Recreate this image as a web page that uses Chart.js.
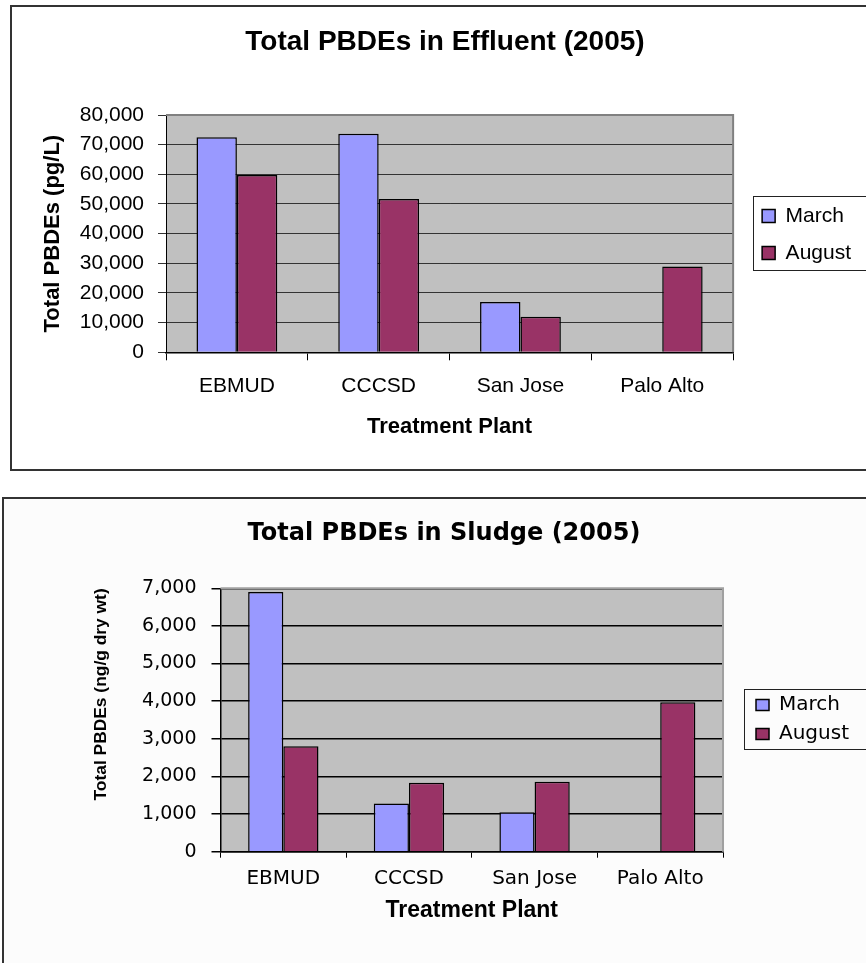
<!DOCTYPE html>
<html>
<head>
<meta charset="utf-8">
<script src="https://cdn.jsdelivr.net/npm/chart.js@4.4.1/dist/chart.umd.min.js"></script>
<style>
    html, body { margin: 0; padding: 0; width: 866px; height: 963px; overflow: hidden; background: #fff; }
    .frame { position: absolute; box-sizing: border-box; border: 2px solid #333; }
    #effluentFrame { left: 10px; top: 5px; width: 900px; height: 466px; background: #fff; }
    #sludgeFrame { left: 2px; top: 497px; width: 900px; height: 520px; background: #fcfcfc; }
    canvas { position: absolute; }
    #effluentChart { left: 42px; top: 7px; }
    #sludgeChart { left: 53px; top: 499px; }
</style>
</head>
<body>
<div class="frame" id="effluentFrame"></div>
<div class="frame" id="sludgeFrame"></div>
<canvas id="effluentChart" width="830" height="455"></canvas>
<canvas id="sludgeChart" width="820" height="441"></canvas>

<script>
// Data
const plants = ['EBMUD', 'CCCSD', 'San Jose', 'Palo Alto'];
const seriesNames = ['March', 'August'];

const effluentMarch = [72500, 73700, 16950, null];
const effluentAugust = [59800, 51700, 12000, 28900];
const effluentAxis = { max: 80000, step: 10000 };

const sludgeMarch = [6900, 1280, 1050, null];
const sludgeAugust = [2800, 1830, 1860, 3970];
const sludgeAxis = { max: 7000, step: 1000 };

const MARCH_COLOR = '#9999FF';
const AUGUST_COLOR = '#993366';

const ARIAL = '"Liberation Sans", Arial, sans-serif';
const VERDANA = '"DejaVu Sans", Verdana, sans-serif';

Chart.defaults.color = '#000';
Chart.defaults.font.family = ARIAL;

// narrow bold font for the sludge y title, fall back to a smaller Arial
function hasFont(name) {
    const ctx = document.createElement('canvas').getContext('2d');
    ctx.font = 'bold 20px monospace';
    const w = ctx.measureText('Total PBDEs (ng/g dry wt)').width;
    ctx.font = `bold 20px "${name}", monospace`;
    return ctx.measureText('Total PBDEs (ng/g dry wt)').width !== w;
}
const narrowOk = hasFont('Liberation Sans Narrow');
const sludgeYTitleFont = narrowOk
    ? { family: '"Liberation Sans Narrow"', size: 21, weight: 'bold', lineHeight: 1 }
    : { family: ARIAL, size: 17.4, weight: 'bold', lineHeight: 1 };

// Excel-style plot area, border and legend frame
const excelLook = {
    id: 'excelLook',
    afterLayout(chart, args, opts) {
        const lg = chart.legend;
        if (lg && opts.legendShift) {
            lg.left += opts.legendShift;
            lg.right += opts.legendShift;
        }
    },
    beforeDraw(chart, args, opts) {
        const { ctx, chartArea: a } = chart;
        ctx.save();
        ctx.fillStyle = opts.plotBg;
        ctx.fillRect(a.left, a.top, a.right - a.left, a.bottom - a.top);
        ctx.restore();
    },
    beforeDatasetsDraw(chart, args, opts) {
        const { ctx, chartArea: a } = chart;
        ctx.save();
        ctx.strokeStyle = opts.edgeColor;
        ctx.lineWidth = opts.edgeWidth;
        ctx.beginPath();
        ctx.moveTo(a.left, a.top);
        ctx.lineTo(a.right, a.top);
        ctx.lineTo(a.right, a.bottom);
        ctx.stroke();
        ctx.restore();
    },
    afterDraw(chart, args, opts) {
        const hb = chart.legend && chart.legend.legendHitBoxes;
        if (!hb || hb.length < 2) return;
        const f = opts.legendFrame;
        const ctx = chart.ctx;
        const x = Math.round(hb[0].left - f.left) + 0.5;
        const y = Math.round(hb[0].top - f.top) + 0.5;
        const b = Math.round(hb[1].top + hb[1].height + f.bottom) + 0.5;
        ctx.save();
        ctx.strokeStyle = '#222';
        ctx.lineWidth = 1;
        ctx.strokeRect(x, y, chart.width + 10 - x, b - y);
        ctx.restore();
    }
};

const fmt = v => v.toLocaleString('en-US');

// Effluent chart
new Chart(document.getElementById('effluentChart'), {
    type: 'bar',
    data: {
        labels: plants,
        datasets: [{
            label: seriesNames[0],
            data: effluentMarch,
            backgroundColor: MARCH_COLOR,
            borderColor: '#000',
            borderWidth: 1.5,
            categoryPercentage: 0.57,
            barPercentage: 1
        }, {
            label: seriesNames[1],
            data: effluentAugust,
            backgroundColor: AUGUST_COLOR,
            borderColor: '#000',
            borderWidth: 1.5,
            categoryPercentage: 0.57,
            barPercentage: 1
        }]
    },
    options: {
        responsive: false,
        animation: false,
        layout: { padding: { left: 0, right: 24, top: 0, bottom: 0 } },
        plugins: {
            title: {
                display: true,
                text: 'Total PBDEs in Effluent (2005)',
                font: { size: 28, weight: 'bold' },
                padding: { top: 18.2, bottom: 56.2 }
            },
            legend: {
                position: 'right',
                align: 'center',
                labels: { boxWidth: 13, boxHeight: 13, padding: 16, font: { size: 21 } }
            },
            tooltip: { enabled: false },
            excelLook: {
                plotBg: '#C0C0C0',
                edgeColor: '#808080',
                edgeWidth: 2,
                legendShift: 13,
                legendFrame: { left: 9, top: 10, bottom: 6.5 }
            }
        },
        scales: {
            x: {
                grid: { display: true, drawOnChartArea: false, drawTicks: true, tickLength: 8, color: '#000', offset: true },
                border: { color: '#000', width: 1.5 },
                ticks: { padding: 13, maxRotation: 0, font: { size: 21 } },
                title: {
                    display: true,
                    text: 'Treatment Plant',
                    font: { size: 22, weight: 'bold' },
                    padding: { top: 0, bottom: 21.8 }
                },
                afterFit: s => { s.height = 109.7; }
            },
            y: {
                min: 0,
                max: effluentAxis.max,
                ticks: { stepSize: effluentAxis.step, padding: 14, font: { size: 21 }, callback: fmt },
                grid: { color: '#333', lineWidth: 1, tickLength: 8 },
                border: { color: '#000', width: 1 },
                title: {
                    display: true,
                    text: 'Total PBDEs (pg/L)',
                    font: { size: 22, weight: 'bold', lineHeight: 1 },
                    padding: { top: 0, bottom: 0 }
                },
                afterFit: s => { s.width = 124; }
            }
        }
    },
    plugins: [excelLook]
});

// Sludge chart
new Chart(document.getElementById('sludgeChart'), {
    type: 'bar',
    data: {
        labels: plants,
        datasets: [{
            label: seriesNames[0],
            data: sludgeMarch,
            backgroundColor: MARCH_COLOR,
            borderColor: '#000',
            borderWidth: 1.5,
            categoryPercentage: 0.56,
            barPercentage: 1
        }, {
            label: seriesNames[1],
            data: sludgeAugust,
            backgroundColor: AUGUST_COLOR,
            borderColor: '#000',
            borderWidth: 1.5,
            categoryPercentage: 0.56,
            barPercentage: 1
        }]
    },
    options: {
        responsive: false,
        animation: false,
        layout: { padding: { left: 0, right: 38, top: 0, bottom: 0 } },
        plugins: {
            title: {
                display: true,
                text: 'Total PBDEs in Sludge (2005)',
                font: { family: VERDANA, size: 24, weight: 'bold' },
                padding: { top: 20, bottom: 40.5 }
            },
            legend: {
                position: 'right',
                align: 'center',
                labels: { boxWidth: 13, boxHeight: 11, padding: 9, font: { family: VERDANA, size: 20 } }
            },
            tooltip: { enabled: false },
            excelLook: {
                plotBg: '#C0C0C0',
                edgeColor: '#A0A0A0',
                edgeWidth: 2,
                legendShift: 24,
                legendFrame: { left: 11.7, top: 6, bottom: 5 }
            }
        },
        scales: {
            x: {
                grid: { display: true, drawOnChartArea: false, drawTicks: true, tickLength: 6, color: '#000', offset: true },
                border: { color: '#000', width: 1.5 },
                ticks: { padding: 8.6, maxRotation: 0, font: { family: VERDANA, size: 20 } },
                title: {
                    display: true,
                    text: 'Treatment Plant',
                    font: { size: 23, weight: 'bold' },
                    padding: { top: 0, bottom: 15.8 }
                },
                afterFit: s => { s.height = 88.3; }
            },
            y: {
                min: 0,
                max: sludgeAxis.max,
                ticks: { stepSize: sludgeAxis.step, padding: 15, font: { family: VERDANA, size: 19 }, callback: fmt },
                grid: { color: '#000', lineWidth: 1.5, tickLength: 9 },
                border: { color: '#000', width: 1.5 },
                title: {
                    display: true,
                    align: 'end',
                    text: 'Total PBDEs (ng/g dry wt)',
                    font: sludgeYTitleFont,
                    padding: { top: 39.5, bottom: 0 }
                },
                afterFit: s => { s.width = 167.5; }
            }
        }
    },
    plugins: [excelLook]
});
</script>
</body>
</html>
